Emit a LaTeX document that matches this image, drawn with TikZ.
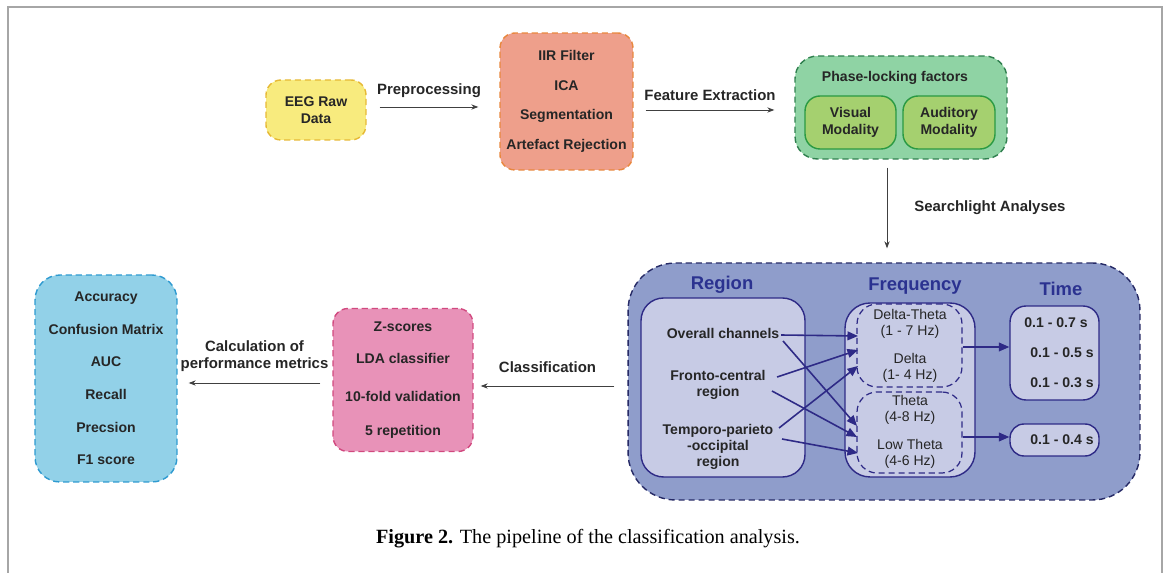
\documentclass[tikz,border=0pt]{standalone}
\usepackage{fontspec}
\setmainfont{Liberation Sans}
\newfontfamily\capfont{Liberation Serif}
\usetikzlibrary{arrows.meta}

\definecolor{framegrey}{HTML}{A6A6A6}
\definecolor{eegfill}{HTML}{F8EB7E}
\definecolor{eegdraw}{HTML}{E6B935}
\definecolor{prefill}{HTML}{EE9F8B}
\definecolor{predraw}{HTML}{E8873E}
\definecolor{plffill}{HTML}{8FD3A4}
\definecolor{plfdraw}{HTML}{2F7F4E}
\definecolor{modfill}{HTML}{A5D06F}
\definecolor{moddraw}{HTML}{2A9A43}
\definecolor{slfill}{HTML}{8F9DCB}
\definecolor{sldraw}{HTML}{262A66}
\definecolor{inner}{HTML}{C7CBE5}
\definecolor{navy}{HTML}{2E2A86}
\definecolor{headblue}{HTML}{2B3290}
\definecolor{pinkfill}{HTML}{E892B8}
\definecolor{pinkdraw}{HTML}{D1497F}
\definecolor{cyanfill}{HTML}{92D1E8}
\definecolor{cyandraw}{HTML}{2E9AD0}

\tikzset{
	stage/.style={rounded corners=0.3cm, line width=0.8pt, dash pattern=on 3.5pt off 2.2pt, inner sep=0pt, align=center},
	stagetext/.style={font=\fontsize{8}{16.8}\selectfont\bfseries, align=center, text=black!85},
	steplabel/.style={font=\fontsize{8.5}{10}\selectfont\bfseries, align=center, text=black!85},
	head/.style={font=\fontsize{10.5}{12}\selectfont\bfseries, text=headblue},
	modbox/.style={rounded corners=0.3cm, draw=moddraw, fill=modfill, line width=0.8pt, align=center, font=\fontsize{8}{9.6}\selectfont\bfseries, text=black!85},
	subbox/.style={rounded corners=0.45cm, draw=navy, line width=0.8pt, fill=inner, inner sep=0pt},
	freqbox/.style={rounded corners=0.4cm, draw=navy, line width=0.7pt, dash pattern=on 3.5pt off 2.2pt, inner sep=0pt},
	regtext/.style={font=\fontsize{8}{9.2}\selectfont\bfseries, align=center, text=black!85},
	freqtext/.style={font=\fontsize{8}{9}\selectfont, align=center, text=black!85},
	flow/.style={-{Stealth[length=4pt,width=3pt]}, line width=0.5pt, black!75},
	link/.style={-{Triangle[length=6pt,width=5pt]}, line width=0.9pt, navy},
}

\begin{document}
\begin{tikzpicture}[x=0.02cm, y=-0.02cm]
	\useasboundingbox (0,0) rectangle (1168,573);
	\draw[framegrey, line width=1pt] (8,573) -- (8,7) -- (1162,7) -- (1162,573);

	% top row
	\node[stage, draw=eegdraw, fill=eegfill, minimum width=2cm, minimum height=1.2cm, font=\fontsize{8}{9.4}\selectfont\bfseries, text=black!85] (eeg) at (316,110) {EEG Raw\\Data};
	\node[stage, stagetext, draw=predraw, fill=prefill, minimum width=2.66cm, minimum height=2.74cm] (pre) at (566.5,101.5) {IIR Filter\\ICA\\Segmentation\\Artefact Rejection};
	\node[stage, draw=plfdraw, fill=plffill, minimum width=4.24cm, minimum height=2.06cm, rounded corners=0.45cm] (plf) at (901,107.5) {};
	\node[stagetext] (plftitle) at (895,78) {Phase-locking factors};
	\node[modbox, minimum width=1.82cm, minimum height=1.06cm] (vis) at (850.5,122.5) {Visual\\Modality};
	\node[modbox, minimum width=1.84cm, minimum height=1.06cm] (aud) at (949,122.5) {Auditory\\Modality};

	\draw[flow] ([xshift=0.26cm]eeg.east |- 0,107) -- ([xshift=-0.42cm]pre.west |- 0,107) node[steplabel, midway, above=2pt] (prelbl) {Preprocessing};
	\draw[flow] ([xshift=0.24cm]pre.east |- 0,110) -- ([xshift=-0.4cm]plf.west |- 0,110) node[steplabel, midway, above=2pt] (featlbl) {Feature Extraction};

	% search light block
	\node[stage, draw=sldraw, fill=slfill, minimum width=10.24cm, minimum height=4.74cm, rounded corners=0.95cm] (sl) at (884,381.5) {};
	\draw[flow] ([yshift=-0.16cm]plf.south -| 887,0) -- ([yshift=0.28cm]sl.north -| 887,0) node[steplabel, midway, right=12pt] (sllbl) {Searchlight Analyses};

	\node[head] (reghead) at (722,285) {Region};
	\node[head] (freqhead) at (915,286) {Frequency};
	\node[head] (timehead) at (1061,289) {Time};

	\node[subbox, minimum width=3.28cm, minimum height=3.58cm] (region) at (723,387.5) {};
	\node[regtext] (oc) at (723,333) {Overall channels};
	\node[regtext] (fc) at (718,385) {Fronto-central\\region};
	\node[regtext] (tpo) at (718,447) {Temporo-parieto\\-occipital\\region};

	\node[subbox, rounded corners=0.5cm, minimum width=2.6cm, minimum height=3.48cm] (freq) at (910,390) {};
	\node[freqbox, minimum width=2.1cm, minimum height=1.66cm] (dt) at (909.5,345.5) {};
	\node[freqbox, minimum width=2.1cm, minimum height=1.62cm] (th) at (909.5,432.5) {};
	\node[freqtext] (dttext) at (910,345.5) {Delta-Theta\\(1 - 7 Hz)\\[7pt]Delta\\(1- 4 Hz)};
	\node[freqtext] (thtext) at (910,432) {Theta\\(4-8 Hz)\\[7pt]Low Theta\\(4-6 Hz)};

	\node[subbox, rounded corners=0.32cm, minimum width=1.78cm, minimum height=1.88cm] (time1) at (1054.5,353) {};
	\node[regtext] (t1) at (1056,323) {0.1 - 0.7 s};
	\node[regtext] (t2) at (1062,353) {0.1 - 0.5 s};
	\node[regtext] (t3) at (1062,383) {0.1 - 0.3 s};
	\node[subbox, rounded corners=0.28cm, minimum width=1.78cm, minimum height=0.64cm] (time2) at (1054.5,440) {};
	\node[regtext] (t4) at (1062,440) {0.1 - 0.4 s};

	% region to frequency
	\draw[link] (781,335) -- (858,336);
	\draw[link] (783,341) -- (857,426);
	\draw[link] (777,377) -- (858,350);
	\draw[link] (772,391) -- (857,437);
	\draw[link] (779,428) -- (858,366);
	\draw[link] (782,439) -- (858,453);
	\draw[link] (dt.east |- 0,347) -- (time1.west |- 0,347);
	\draw[link] (th.east |- 0,437) -- (time2.west |- 0,437);

	% bottom row
	\node[stage, draw=pinkdraw, fill=pinkfill, minimum width=2.8cm, minimum height=2.86cm] (clf) at (403,380) {};
	\node[stagetext, font=\fontsize{8}{18}\selectfont\bfseries] (clftext) at (403,380.5) {Z-scores\\LDA classifier\\[3.4pt]10-fold validation\\[1.7pt]5 repetition};
	\node[stage, stagetext, draw=cyandraw, fill=cyanfill, minimum width=2.84cm, minimum height=4.14cm, rounded corners=0.5cm, font=\fontsize{8}{18.6}\selectfont\bfseries] (metric) at (106,378.5) {Accuracy\\Confusion Matrix\\AUC\\Recall\\Precsion\\F1 score};

	\draw[flow] ([xshift=-0.26cm]sl.west |- 0,386) -- ([xshift=0.14cm]clf.east |- 0,386) node[steplabel, midway, above=4pt] (clflbl) {Classification};
	\draw[flow] ([xshift=-0.24cm]clf.west |- 0,383) -- ([xshift=0.22cm]metric.east |- 0,383) node[steplabel, midway, above=3pt, font=\fontsize{8.5}{9.8}\selectfont\bfseries] (calclbl) {Calculation of\\performance metrics};

	\node[font=\capfont\fontsize{11.5}{13}\selectfont] (caption) at (588,539) {\textbf{Figure 2.} The pipeline of the classification analysis.};
\end{tikzpicture}
\end{document}
